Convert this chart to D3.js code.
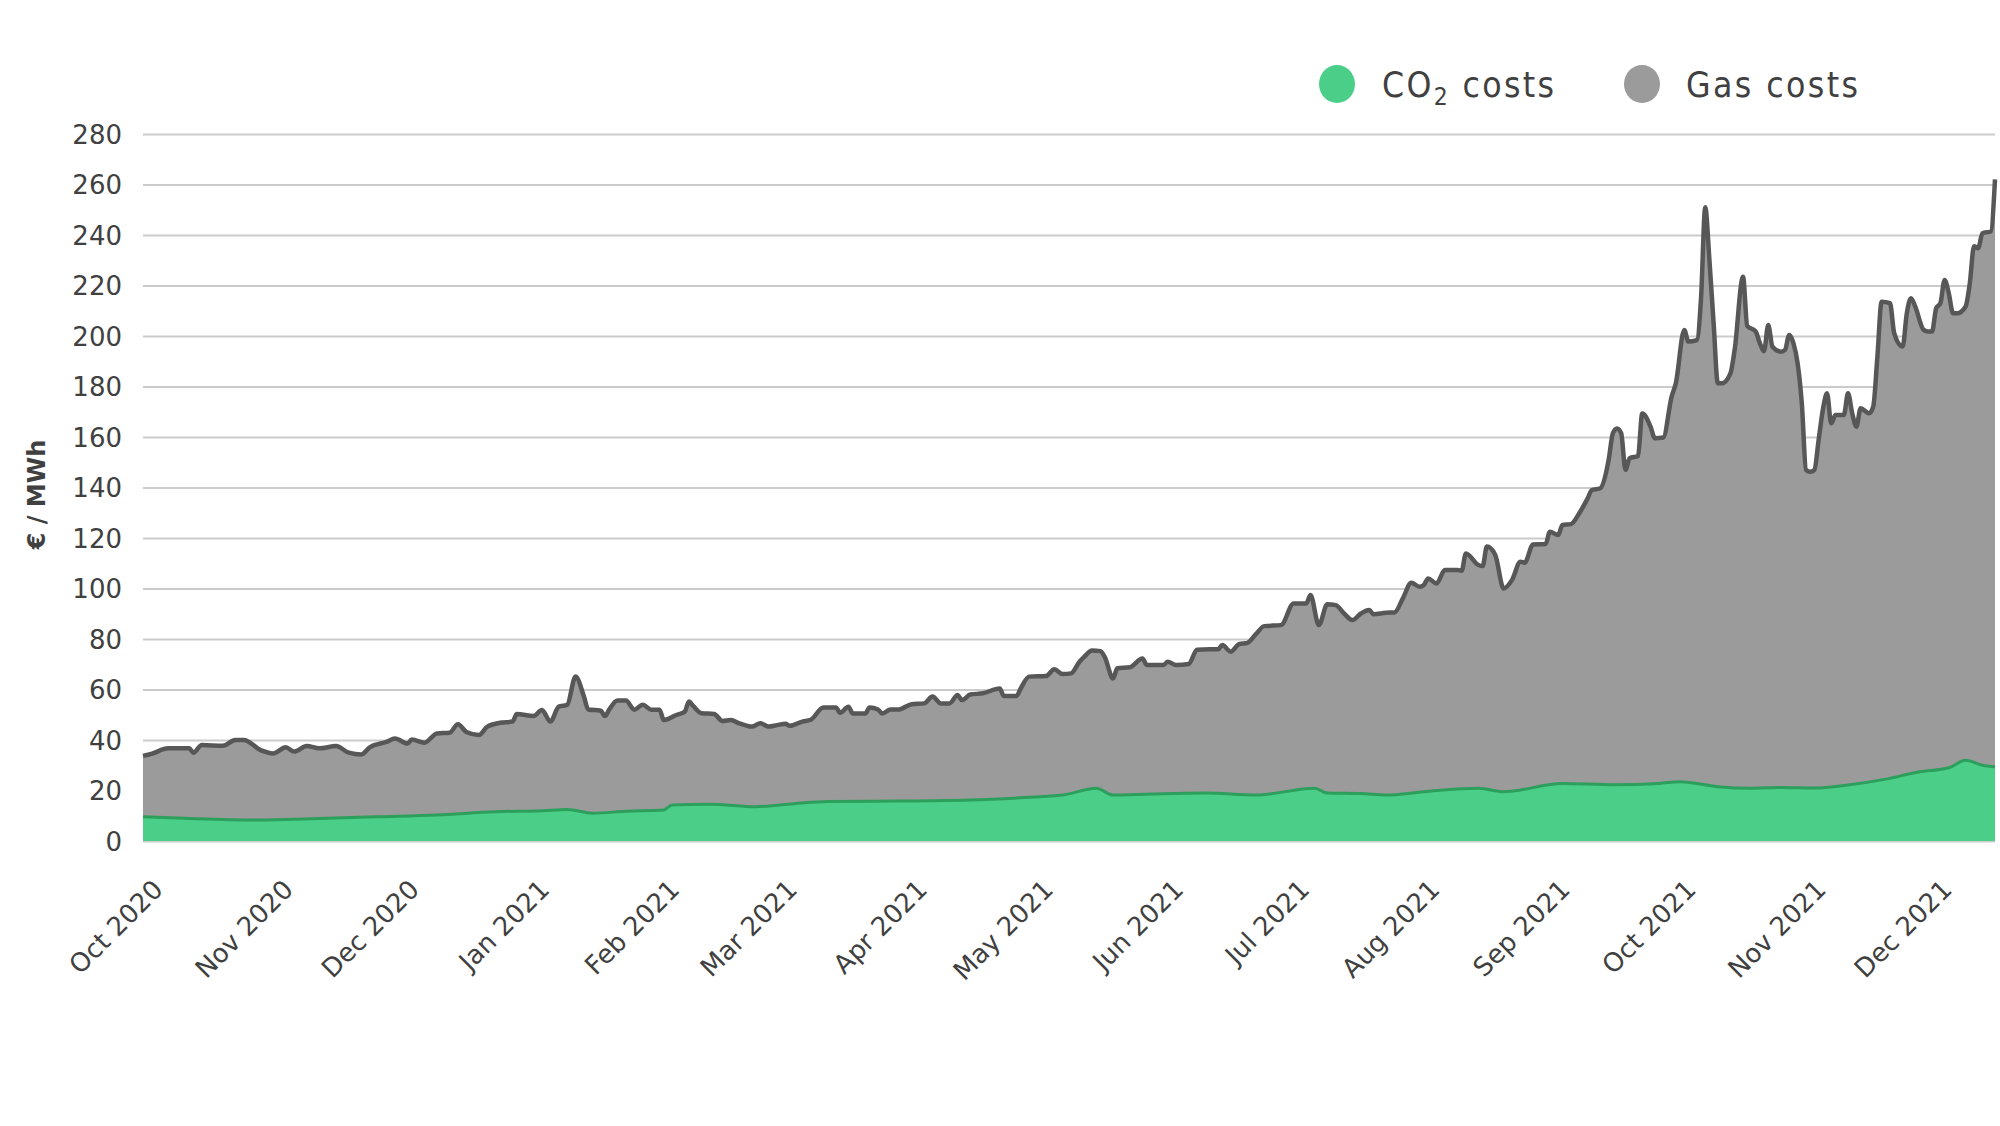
<!DOCTYPE html>
<html>
<head>
<meta charset="utf-8">
<script src="https://cdn.jsdelivr.net/npm/d3@7"></script>
<style>
  body { margin: 0; background: #ffffff; }
  svg { display: block; }
</style>
</head>
<body>
<svg id="chart" width="2000" height="1126"></svg>
<script>
// ---------------- DATA ----------------
const startDate = "2020-10-01";
const endDate = "2021-12-16";
const yTickValues = [0, 20, 40, 60, 80, 100, 120, 140, 160, 180, 200, 220, 240, 260, 280];
const yAxisTitle = "€ / MWh";
const legendLabels = ["CO2 costs", "Gas costs"];

// Day offsets from startDate and the top of the stacked grey area (CO2 + gas costs), €/MWh
const gasDay = [0,2,6,11,12,14,19,22,24,28,31,34,36,39,42,46,49,52,54,58,60,63,64,67,70,73,75,77,80,82,85,88,89,93,95,97,99,101,103,105,106,109,110,111,113,115,117,119,121,123,124,127,129,130,131,133,136,138,140,142,145,147,149,151,153,154,157,159,162,165,166,168,169,172,173,175,176,178,180,183,186,188,190,192,194,195,197,200,204,205,208,209,211,215,217,219,221,223,224,226,228,229,231,232,235,238,239,243,244,246,249,251,254,256,257,259,261,263,265,267,271,274,277,278,280,282,284,286,288,290,292,293,296,298,300,302,304,305,306,308,310,313,314,315,318,319,320,322,324,326,328,329,331,334,335,337,338,340,342,344,345,347,349,350,351,352,353,354,356,357,359,360,362,364,365,367,368,370,371,372,373,374,375,376,378,379,381,382,384,385,386,387,388,390,391,392,393,394,395,396,397,398,399,400,401,402,403,405,406,407,408,409,411,412,413,414,416,417,419,420,421,422,424,425,426,427,428,429,430,431,432,434,435,436,437,438,440,441];
const gasTop = [33.7,34.5,36.7,36.7,35.0,38.0,37.7,40.0,40.0,36.0,34.7,37.1,35.4,37.6,36.7,37.6,35.0,34.3,37.1,39.3,40.6,38.6,40.2,38.9,42.6,42.9,46.2,43.2,42.0,45.3,46.8,47.3,50.3,49.5,51.9,47.3,53.2,53.9,65.1,57.2,52.1,51.6,49.5,52.0,55.6,55.6,52.0,54.0,52.0,52.0,47.9,49.9,51.2,55.2,53.5,50.6,50.3,47.5,47.9,46.6,45.3,46.6,45.3,45.9,46.4,45.6,47.3,48.0,52.9,52.9,50.8,53.2,50.5,50.5,52.9,52.1,50.5,52.1,52.1,54.2,54.5,57.2,54.5,54.5,57.8,55.8,58.0,58.5,60.4,57.4,57.4,60.4,65.1,65.3,68.0,66.1,66.4,71.0,72.7,75.4,75.2,72.9,64.4,68.4,68.8,72.3,69.7,69.7,71.0,69.7,70.1,75.7,75.9,75.9,77.6,75.0,78.0,78.5,81.9,85.1,85.5,94.1,94.1,97.4,85.5,93.8,93.4,90.1,87.5,90.1,91.5,89.8,90.4,90.5,96.1,102.3,100.7,101.4,104.0,102.0,107.3,107.3,107.0,113.9,109.3,108.9,116.6,113.3,100.0,103.4,110.6,110.2,117.4,117.6,122.5,121.2,125.2,125.5,129.8,135.7,139.0,139.7,150.9,161.4,163.4,161.4,147.0,151.6,152.5,169.3,164.0,159.5,159.8,176.0,181.3,202.4,197.8,198.4,215.0,251.0,230.0,205.0,181.3,181.3,185.2,194.5,223.5,204.0,201.8,197.2,194.0,204.4,195.8,193.8,194.5,200.4,197.2,189.2,173.3,147.0,146.2,147.0,158.8,170.7,177.3,165.4,168.7,168.7,177.3,169.4,164.1,171.4,169.4,172.0,191.9,213.6,213.0,201.1,195.8,209.0,215.0,211.7,202.4,201.8,201.8,211.0,213.0,222.2,216.9,209.0,209.0,211.7,220.9,235.5,234.8,240.7,241.4,262.0];

// Day offsets from startDate and CO2 costs, €/MWh
const co2Day = [0,10,28,40,56,70,84,95,101,107,115,124,126,135,146,155,163,180,197,210,219,227,231,240,253,265,279,282,290,296,305,318,324,338,350,361,366,375,383,390,398,406,415,423,430,434,438,441];
const co2Value = [9.6,9.0,8.3,8.8,9.6,10.3,11.6,12.0,12.5,11.0,11.8,12.3,14.3,14.6,13.6,14.8,15.6,15.8,16.2,17.2,18.2,20.9,18.2,18.6,19.0,18.2,20.9,19.0,18.8,18.2,19.5,20.9,19.5,22.8,22.3,22.8,23.5,21.5,20.9,21.2,21.0,22.2,24.5,27.4,29.0,32.0,30.0,29.4];

// ---------------- CHART ----------------
const plot = { left: 143, right: 1995, top: 134, bottom: 841 };
const colors = { co2: "#4bcf88", co2Line: "#2c9f5d", gas: "#9b9b9b", gasLine: "#575757", grid: "#cbcbcb", text: "#404040" };
const font = "'DejaVu Sans', Verdana, sans-serif";

const parse = d3.utcParse("%Y-%m-%d");
const t0 = parse(startDate);
const gasData = gasDay.map((d, i) => ({ date: d3.utcDay.offset(t0, d), v: gasTop[i] }));
const co2Data = co2Day.map((d, i) => ({ date: d3.utcDay.offset(t0, d), v: co2Value[i] }));

const x = d3.scaleUtc().domain([t0, parse(endDate)]).range([plot.left, plot.right]);
const y = d3.scaleLinear().domain([0, 280]).range([plot.bottom, plot.top]);

const svg = d3.select("#chart");

// Y axis with gridlines
const yAxis = svg.append("g")
  .attr("transform", `translate(${plot.left},0)`)
  .call(d3.axisLeft(y).tickValues(yTickValues).tickSize(-(plot.right - plot.left)).tickPadding(21));
yAxis.select(".domain").remove();
yAxis.selectAll(".tick line").attr("stroke", colors.grid).attr("stroke-width", 2);
yAxis.selectAll(".tick text")
  .attr("fill", colors.text).attr("font-family", font).attr("font-size", 26).attr("dy", "0.36em");

// Areas
const areaGen = d3.area().x(d => x(d.date)).y0(y(0)).y1(d => y(d.v)).curve(d3.curveMonotoneX);
const lineGen = d3.line().x(d => x(d.date)).y(d => y(d.v)).curve(d3.curveMonotoneX);

svg.append("path").datum(gasData).attr("d", areaGen).attr("fill", colors.gas);
svg.append("path").datum(gasData).attr("d", lineGen).attr("fill", "none")
  .attr("stroke", colors.gasLine).attr("stroke-width", 4.5).attr("stroke-linejoin", "round");
svg.append("path").datum(co2Data).attr("d", areaGen).attr("fill", colors.co2);
svg.append("path").datum(co2Data).attr("d", lineGen).attr("fill", "none")
  .attr("stroke", colors.co2Line).attr("stroke-width", 3).attr("stroke-linejoin", "round");

// X axis
const xAxis = svg.append("g")
  .attr("transform", `translate(0,${plot.bottom})`)
  .call(d3.axisBottom(x).ticks(d3.utcMonth.every(1)).tickFormat(d3.utcFormat("%b %Y")).tickSize(0));
xAxis.select(".domain").remove();
xAxis.selectAll(".tick text")
  .attr("x", 0).attr("y", 0).attr("dy", 0)
  .attr("transform", "translate(21,50) rotate(-45)")
  .attr("text-anchor", "end")
  .attr("fill", colors.text).attr("font-family", font).attr("font-size", 26);

// Y axis title
svg.append("text")
  .attr("transform", `translate(45,${(plot.top + plot.bottom) / 2 + 7}) rotate(-90)`)
  .attr("text-anchor", "middle")
  .attr("font-family", font).attr("font-size", 24).attr("font-weight", "bold")
  .attr("fill", colors.text)
  .text(yAxisTitle);

// Legend
const legend = svg.append("g");
const legendItems = [
  { label: legendLabels[0], color: colors.co2, cx: 1337, tx: 1382 },
  { label: legendLabels[1], color: colors.gas, cx: 1642, tx: 1686 }
];
const sx = 0.88;
legendItems.forEach(item => {
  legend.append("ellipse").attr("cx", item.cx).attr("cy", 84).attr("rx", 18).attr("ry", 19).attr("fill", item.color);
  const t = legend.append("text")
    .attr("transform", `translate(${item.tx},97) scale(${sx},1)`)
    .attr("font-family", font).attr("font-size", 36)
    .attr("fill", colors.text);
  const m = item.label.match(/^CO2(.*)$/);
  if (m) {
    t.append("tspan").text("CO");
    t.append("tspan").attr("font-size", 25).attr("dy", 8).text("2");
    t.append("tspan").attr("dy", -8).text(m[1]);
  } else {
    t.text(item.label);
  }
  t.attr("textLength", 172 / sx).attr("lengthAdjust", "spacing");
});
</script>
</body>
</html>
